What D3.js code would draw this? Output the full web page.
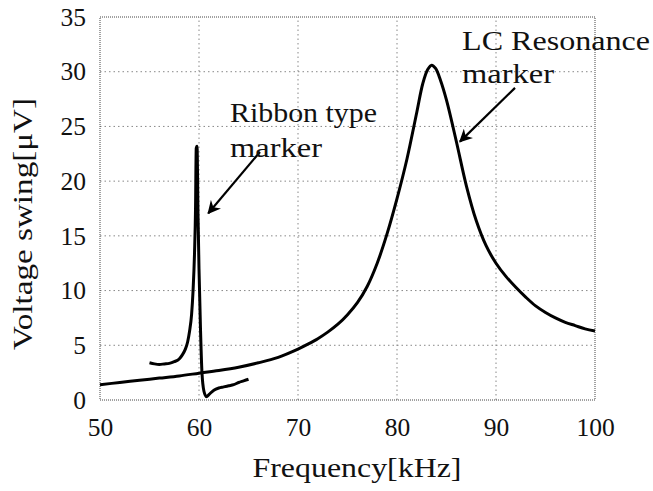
<!DOCTYPE html>
<html>
<head>
<meta charset="utf-8">
<script src="https://cdn.jsdelivr.net/npm/d3@7"></script>
<style>
  body { margin: 0; background: #fff; }
  svg text { font-family: "Liberation Serif", "Times New Roman", serif; fill: #111; }
</style>
</head>
<body>
<div id="viz"></div>
<script>
const width = 653;
const height = 491;
const margin = {top: 17, right: 58, bottom: 91, left: 100};
const serif = '"Liberation Serif", "Times New Roman", serif';

// LC resonance marker curve (kHz, uV)
const lcFreq = [50, 52, 54, 56, 58, 60, 62, 64, 66, 68, 70, 71, 72, 73, 74, 75, 76, 77, 78, 79, 80, 81, 82, 82.6, 83.1, 83.5, 83.9, 84.4, 85, 86, 87, 88, 89, 90, 91, 92, 93, 94, 95, 96, 97, 98, 99, 100];
const lcVolt = [1.4, 1.6, 1.8, 2.0, 2.2, 2.45, 2.7, 3.0, 3.4, 3.9, 4.65, 5.1, 5.6, 6.2, 6.9, 7.8, 8.9, 10.4, 12.5, 15.2, 18.4, 22.0, 26.3, 28.9, 30.2, 30.6, 30.3, 29.2, 27.4, 23.6, 19.6, 16.4, 14.1, 12.5, 11.3, 10.3, 9.4, 8.6, 8.0, 7.5, 7.1, 6.8, 6.5, 6.3];

// Ribbon type marker curve
const ribFreq = [55.0, 55.5, 56.0, 56.5, 57.0, 57.5, 58.0, 58.3, 58.6, 58.85, 59.05, 59.25, 59.4, 59.55, 59.65, 59.72, 59.8, 59.9, 60.0, 60.15, 60.3, 60.5, 60.75, 61.0, 61.5, 62.0, 62.5, 63.0, 63.5, 64.0, 64.5, 65.0];
const ribVolt = [3.4, 3.3, 3.25, 3.3, 3.35, 3.5, 3.75, 4.1, 4.6, 5.3, 6.3, 7.8, 10.0, 13.5, 17.5, 23.0, 23.2, 17.0, 12.0, 6.5, 2.5, 0.8, 0.3, 0.5, 0.9, 1.1, 1.2, 1.3, 1.4, 1.6, 1.75, 1.9];

const xTicks = [50, 60, 70, 80, 90, 100];
const yTicks = [0, 5, 10, 15, 20, 25, 30, 35];

// annotations: text lines and arrows in data units
const labelLines = [
  {f: 63.13, v: 25.4, text: 'Ribbon type', w: 147},
  {f: 63.13, v: 22.2, text: 'marker', w: 92},
  {f: 86.57, v: 32.0, text: 'LC Resonance', w: 188},
  {f: 86.57, v: 29.0, text: 'marker', w: 92}
];
const arrows = [
  {f0: 66.16, v0: 22.67, f1: 60.94, v1: 17.07},
  {f0: 91.92, v0: 28.52, f1: 86.36, v1: 23.61}
];

const svg = d3.select('#viz')
  .append('svg')
  .attr('width', width)
  .attr('height', height);

const x = d3.scaleLinear()
  .domain([50, 100])
  .range([margin.left, width - margin.right]);

const y = d3.scaleLinear()
  .domain([0, 35])
  .range([height - margin.bottom, margin.top]);

// grid
const grid = svg.append('g')
  .attr('stroke', '#888')
  .attr('stroke-width', 1)
  .attr('stroke-dasharray', '1.5,3');

grid.selectAll('.hg')
  .data(yTicks.slice(1, -1))
  .join('line')
    .attr('x1', x(50)).attr('x2', x(100))
    .attr('y1', d => y(d)).attr('y2', d => y(d));

grid.selectAll('.vg')
  .data(xTicks.slice(1, -1))
  .join('line')
    .attr('y1', y(0)).attr('y2', y(35))
    .attr('x1', d => x(d)).attr('x2', d => x(d));

// frame
svg.append('rect')
  .attr('x', x(50)).attr('y', y(35))
  .attr('width', x(100) - x(50))
  .attr('height', y(0) - y(35))
  .attr('fill', 'none')
  .attr('stroke', '#444')
  .attr('stroke-width', 1)
  .attr('stroke-dasharray', '1,1');

// axes
const xAxis = svg.append('g')
  .attr('transform', `translate(0, ${y(0)})`)
  .call(d3.axisBottom(x).tickValues(xTicks).tickSize(0).tickPadding(18));

const yAxis = svg.append('g')
  .attr('transform', `translate(${x(50)}, 0)`)
  .call(d3.axisLeft(y).tickValues(yTicks).tickSize(0).tickPadding(14));

[xAxis, yAxis].forEach(a => {
  a.attr('font-family', serif).attr('font-size', 25.5);
  a.select('.domain').remove();
  a.selectAll('text')
    .attr('font-family', serif)
    .attr('font-size', 25.5)
    .attr('fill', '#111');
});

// axis titles
svg.append('text')
  .attr('x', 357)
  .attr('y', 477)
  .attr('text-anchor', 'middle')
  .attr('font-size', 28)
  .attr('textLength', 209)
  .attr('lengthAdjust', 'spacingAndGlyphs')
  .text('Frequency[kHz]');

svg.append('text')
  .attr('transform', 'translate(32, 224) rotate(-90)')
  .attr('text-anchor', 'middle')
  .attr('font-size', 28)
  .attr('textLength', 252)
  .attr('lengthAdjust', 'spacingAndGlyphs')
  .text('Voltage swing[μV]');

// curves
const lcLine = d3.line()
  .x(d => x(d[0]))
  .y(d => y(d[1]))
  .curve(d3.curveCatmullRom);

const ribLine = d3.line()
  .x(d => x(d[0]))
  .y(d => y(d[1]))
  .curve(d3.curveMonotoneX);

svg.append('path')
  .attr('d', lcLine(lcFreq.map((f, i) => [f, lcVolt[i]])))
  .attr('fill', 'none')
  .attr('stroke', '#000')
  .attr('stroke-width', 3)
  .attr('stroke-linejoin', 'round');

svg.append('path')
  .attr('d', ribLine(ribFreq.map((f, i) => [f, ribVolt[i]])))
  .attr('fill', 'none')
  .attr('stroke', '#000')
  .attr('stroke-width', 3)
  .attr('stroke-linejoin', 'round');

// annotations
svg.append('defs')
  .append('marker')
    .attr('id', 'head')
    .attr('viewBox', '0 0 10 10')
    .attr('refX', 9).attr('refY', 5)
    .attr('markerWidth', 6).attr('markerHeight', 6)
    .attr('markerUnits', 'strokeWidth')
    .attr('orient', 'auto')
  .append('path')
    .attr('d', 'M0,0 L10,5 L0,10 L3,5 Z')
    .attr('fill', '#000');

svg.selectAll('.arrow')
  .data(arrows)
  .join('line')
    .attr('x1', d => x(d.f0)).attr('y1', d => y(d.v0))
    .attr('x2', d => x(d.f1)).attr('y2', d => y(d.v1))
    .attr('stroke', '#000')
    .attr('stroke-width', 2.2)
    .attr('marker-end', 'url(#head)');

svg.selectAll('.lbl')
  .data(labelLines)
  .join('text')
    .attr('x', d => x(d.f))
    .attr('y', d => y(d.v))
    .attr('font-size', 27)
    .attr('textLength', d => d.w)
    .attr('lengthAdjust', 'spacingAndGlyphs')
    .text(d => d.text);
</script>
</body>
</html>
